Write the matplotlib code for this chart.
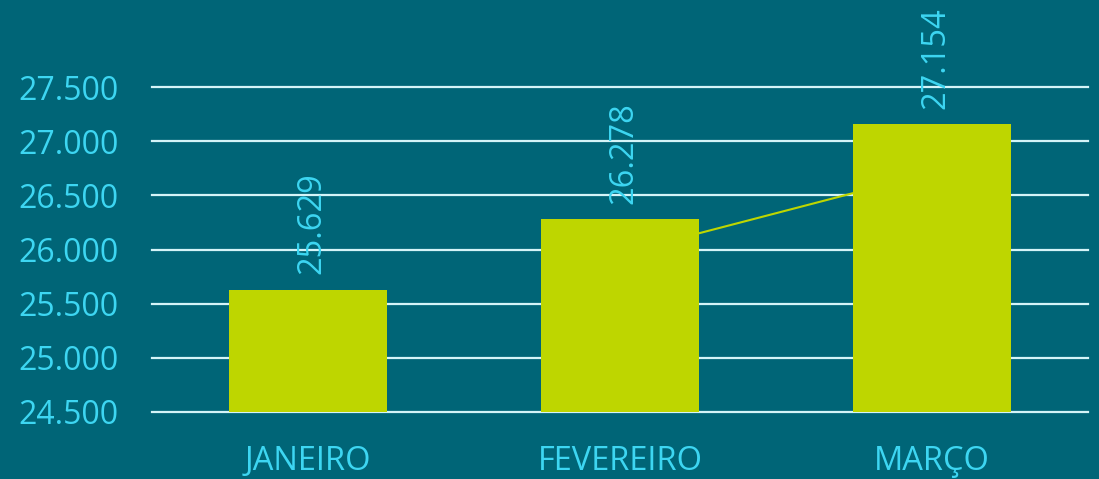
import matplotlib.pyplot as plt
import numpy as np

# data
months = ['JANEIRO', 'FEVEREIRO', 'MARÇO']
values = [25629, 26278, 27154]
trend = [np.nan, 25960, 26710]

bg = '#006577'
bar_color = '#BED600'
text_color = '#3DD6F2'
grid_color = '#D4F4F8'

def fmt(v):
    return f'{v:,.0f}'.replace(',', '.')

fig = plt.figure(figsize=(10.99, 4.79), dpi=100, facecolor=bg)
ax = fig.add_axes([152 / 1099, 1 - 412 / 479, 936 / 1099, 325 / 479])
ax.set_facecolor(bg)

x = np.arange(len(months))
ax.plot(x, trend, color=bar_color, lw=1.5, zorder=2)
ax.bar(x, values, width=0.505, color=bar_color, zorder=3)

for xi, v in zip(x, values):
    ax.annotate(fmt(v), (xi, v), xytext=(3, 11), textcoords='offset points',
                rotation=90, ha='center', va='bottom', color=text_color,
                fontsize=23.5, family=['Open Sans', 'DejaVu Sans'],
                annotation_clip=False, zorder=4)

ax.set_xlim(-0.5, 2.5)
ax.set_ylim(24500, 27500)
ticks = np.arange(24500, 27501, 500)
ax.set_yticks(ticks)
ax.set_yticklabels([fmt(t) for t in ticks], color=text_color,
                   fontsize=23, family=['Open Sans', 'DejaVu Sans'])
ax.set_xticks(x)
ax.set_xticklabels(months, color=text_color, fontsize=23.5,
                   family=['Liberation Sans Narrow', 'Open Sans', 'DejaVu Sans'])
ax.tick_params(axis='x', length=0, pad=24)
ax.tick_params(axis='y', length=0, pad=24)

for t in ticks:
    ax.axhline(t, color=grid_color, lw=1.6, zorder=1, clip_on=False)

for s in ax.spines.values():
    s.set_visible(False)

fig.savefig('out.png', dpi=100, facecolor=bg)
